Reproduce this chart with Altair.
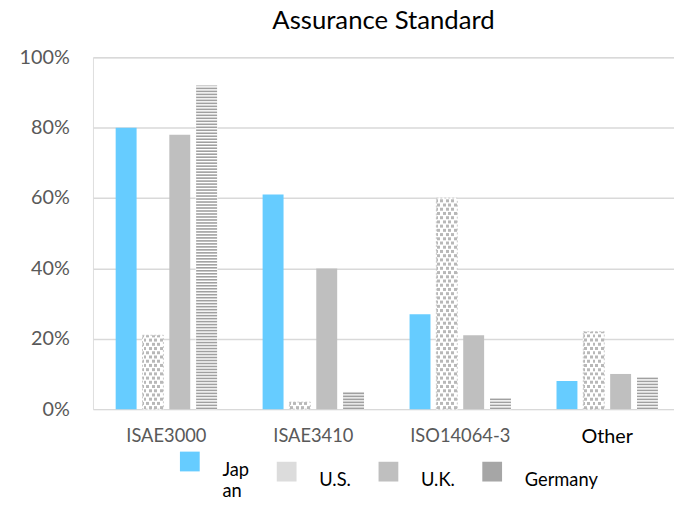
import altair as alt
import pandas as pd

categories = ["ISAE3000", "ISAE3410", "ISO14064-3", "Other"]
countries = ["Japan", "U.S.", "U.K.", "Germany"]
japan = [80, 61, 27, 8]
us = [21, 2, 60, 22]
uk = [78, 40, 21, 10]
germany = [92, 5, 3, 9]
legend_colors = ["#66ccff", "#dcdcdc", "#bfbfbf", "#a6a6a6"]

rows = []
for series, name in zip([japan, us, uk, germany], countries):
    for cat, v in zip(categories, series):
        rows.append({"category": cat, "country": name, "v": v / 100})
df = pd.DataFrame(rows)

FONT = "Lato"
x_enc = alt.X("category:N", sort=categories,
              scale=alt.Scale(domain=categories, paddingInner=0.31, paddingOuter=0.132, align=0.585),
              axis=alt.Axis(title=None, labelAngle=0, domain=False, ticks=False, grid=False,
                            labelFontSize=alt.condition("datum.value == 'Other'", alt.value(20), alt.value(18.5)),
                            labelColor=alt.condition("datum.value == 'Other'", alt.value("#000000"), alt.value("#595959")),
                            labelPadding=18))
xo_enc = alt.XOffset("country:N", sort=countries,
                     scale=alt.Scale(domain=countries, paddingInner=0.22))
y_axis = alt.Axis(title=None, format=".0%", values=[0, 0.2, 0.4, 0.6, 0.8, 1.0],
                  domain=False, ticks=False, labelFontSize=20, labelColor="#595959",
                  labelPadding=24, gridColor="#d9d9d9", gridWidth=1.5)
y_scale = alt.Scale(domain=[0, 1], nice=False)
y_plain = dict(scale=y_scale, axis=y_axis)

base = alt.Chart(df)

colored = base.mark_bar().encode(
    x=x_enc, xOffset=xo_enc,
    y=alt.Y("v:Q", **y_plain),
    color=alt.Color("country:N", sort=countries,
                    scale=alt.Scale(domain=countries, range=legend_colors),
                    legend=alt.Legend(
                        title=None, orient="none", legendX=88, legendY=399,
                        direction="horizontal", columns=4, symbolType="square",
                        symbolSize=400, symbolStrokeWidth=0, labelFontSize=18.5,
                        labelColor="#000000", labelOffset=23, columnPadding=27,
                        labelFont=FONT, labelBaseline="top",
                        labelExpr="datum.label == 'Japan' ? ['Jap', 'an'] : datum.label")),
)

white = base.transform_filter(
    "datum.country == 'U.S.' || datum.country == 'Germany'"
).mark_bar(color="white", stroke="white", strokeWidth=1).encode(
    x=x_enc, xOffset=xo_enc, y=alt.Y("v:Q", **y_plain)
)

us_border = base.transform_filter("datum.country == 'U.S.'").mark_bar(
    fill="white", stroke="#c8c8c8", strokeWidth=1, strokeDash=[2, 2]
).encode(x=x_enc, xOffset=xo_enc, y=alt.Y("v:Q", **y_plain))

STEP_US = 0.012
SQ_H = 0.0085

def grad(spans):
    stops = []
    for a, b in spans:
        stops += [alt.GradientStop(offset=a, color="rgba(255,255,255,0)"),
                  alt.GradientStop(offset=a, color="#b8b8b8"),
                  alt.GradientStop(offset=b, color="#b8b8b8"),
                  alt.GradientStop(offset=b, color="rgba(255,255,255,0)")]
    return alt.LinearGradient(gradient="linear", stops=stops, x1=0, x2=1, y1=0, y2=0)

grad_a = grad([(0.05, 0.19), (0.31, 0.45), (0.57, 0.71), (0.83, 0.97)])
grad_b = grad([(0.0, 0.06), (0.18, 0.32), (0.44, 0.58), (0.70, 0.84)])

us_rows = base.transform_filter("datum.country == 'U.S.'").transform_calculate(
    s=f"sequence(0, datum.v, {STEP_US})"
).transform_flatten(["s"]).transform_calculate(
    idx=f"round(datum.s / {STEP_US})",
    s2=f"min(datum.s + {SQ_H}, datum.v)",
)

us_a = us_rows.transform_filter("datum.idx % 2 == 0").mark_bar(fill=grad_a, strokeWidth=0).encode(
    x=x_enc, xOffset=xo_enc, y=alt.Y("s:Q", **y_plain), y2="s2:Q")
us_b = us_rows.transform_filter("datum.idx % 2 == 1").mark_bar(fill=grad_b, strokeWidth=0).encode(
    x=x_enc, xOffset=xo_enc, y=alt.Y("s:Q", **y_plain), y2="s2:Q")

STEP_DE = 0.0085
ST_H = 0.0045
de_rows = base.transform_filter("datum.country == 'Germany'").transform_calculate(
    s=f"sequence(0, datum.v, {STEP_DE})"
).transform_flatten(["s"]).transform_calculate(
    s2=f"min(datum.s + {ST_H}, datum.v)"
)
de = de_rows.mark_bar(color="#a0a0a0", strokeWidth=0).encode(
    x=x_enc, xOffset=xo_enc, y=alt.Y("s:Q", **y_plain), y2="s2:Q")

chart = alt.layer(colored, white, us_border, us_a, us_b, de).properties(
    width=588, height=356,
    autosize=alt.AutoSizeParams(type="none"),
    padding={"left": 86, "top": 47, "right": 0, "bottom": 89},
    title=alt.TitleParams("Assurance Standard", fontSize=26, font=FONT,
                          color="#000000", fontWeight="normal", offset=14),
).configure_view(strokeWidth=0, stroke="transparent").configure(font=FONT).configure_axis(
    labelFont=FONT
)

chart.save("out.html", embed_options={"renderer": "svg", "actions": False})
